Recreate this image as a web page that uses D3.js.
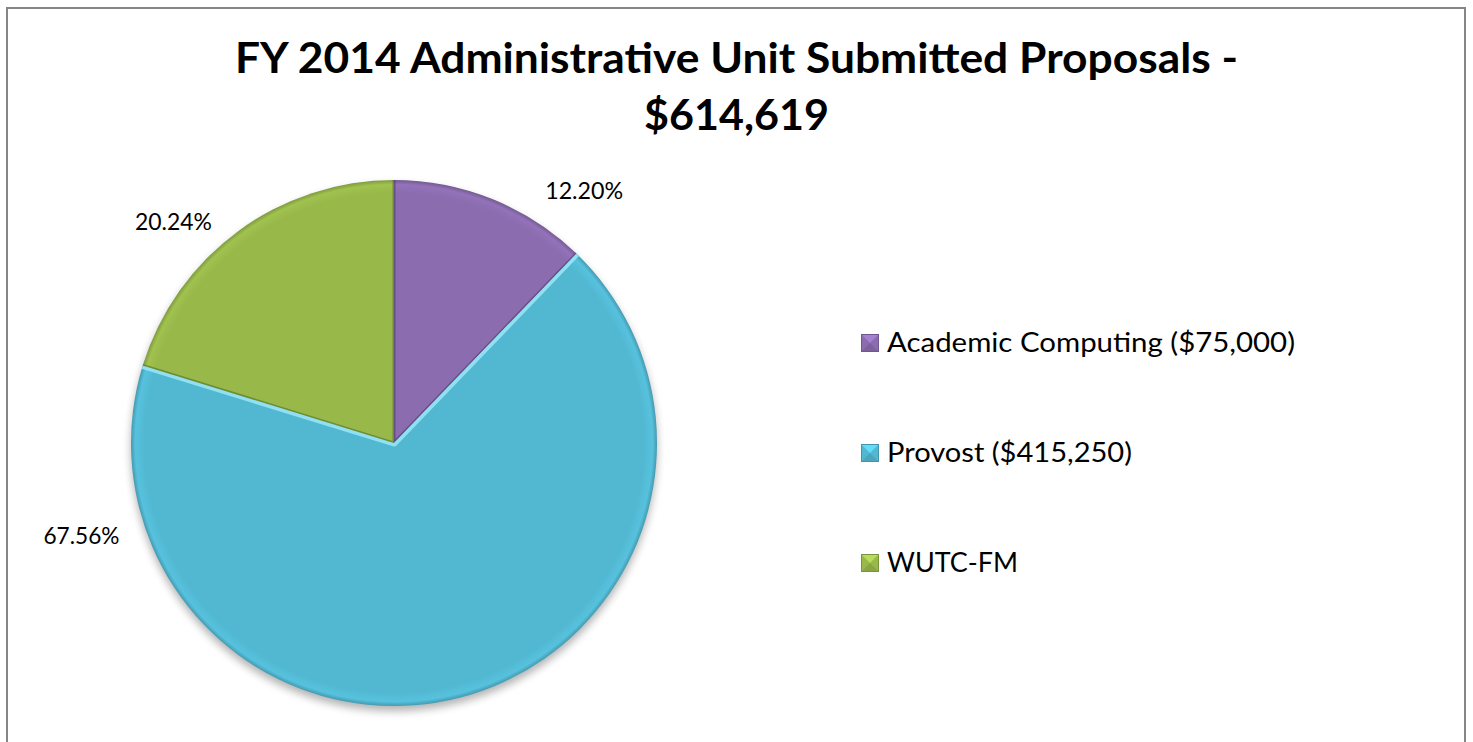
<!DOCTYPE html>
<html>
<head>
<meta charset="utf-8">
<script src="https://cdn.jsdelivr.net/npm/d3@7"></script>
<style>
  html, body { margin: 0; padding: 0; background: #ffffff; }
  svg { display: block; }
</style>
</head>
<body>
<script>
// ---- data ----
const categories = ["Academic Computing", "Provost", "WUTC-FM"];
const legendLabels = ["Academic Computing ($75,000)", "Provost ($415,250)", "WUTC-FM"];
const values = [75000, 415250, 124369];
const percentLabels = ["12.20%", "67.56%", "20.24%"];
const titleLines = ["FY 2014 Administrative Unit Submitted Proposals -", "$614,619"];

// ---- style / layout ----
const W = 1473, H = 742;
const colors = ["#8b6caf", "#52b8d2", "#98b84a"];
const edgeColors = ["#4e3a6c", "#9ae8f8", "#556e20"];
const cx = 394, cy = 443, R = 263;
// label anchor direction (degrees clockwise from top) and distance from centre
const labelLayout = [
  { angle: 37.0, dist: 316 },
  { angle: 253.5, dist: 326 },
  { angle: 315.0, dist: 312 }
];
const legendLayout = { x: 861, y0: 352, step: 110, box: 18, gap: 8 };
const legendWidths = [408, 245, 131];
const labelWidths = [78, 76, 77];

const svg = d3.select("body").append("svg").attr("width", W).attr("height", H);
const defs = svg.append("defs");

// border
svg.append("rect").attr("x", 7).attr("y", 8).attr("width", 1458).attr("height", 760)
  .attr("fill", "#fff").attr("stroke", "#868686").attr("stroke-width", 2);

// title
const title = svg.append("text").attr("text-anchor", "middle")
  .attr("font-family", "Lato, 'Open Sans', sans-serif").attr("font-weight", "bold")
  .attr("font-size", 42).attr("fill", "#000");
title.selectAll("tspan").data(titleLines).join("tspan")
  .attr("x", W / 2).attr("y", (d, i) => 73 + i * 57)
  .attr("textLength", (d, i) => i === 0 ? 1003 : 185)
  .attr("lengthAdjust", "spacingAndGlyphs")
  .text(d => d);

// shadow filter (applied only to a separate shadow shape)
const f = defs.append("filter").attr("id", "shadow")
  .attr("x", "-20%").attr("y", "-20%").attr("width", "140%").attr("height", "140%")
  .attr("color-interpolation-filters", "sRGB");
f.append("feGaussianBlur").attr("stdDeviation", 4);

const pie = d3.pie().sort(null).value(d => d);
const arcs = pie(values);
const arc = d3.arc().innerRadius(0).outerRadius(R);

const pg = svg.append("g").attr("transform", `translate(${cx},${cy})`);
pg.append("circle").attr("cx", 0).attr("cy", 5).attr("r", R)
  .attr("fill", "#000").attr("opacity", 0.3).attr("filter", "url(#shadow)");

// gradients per slice (rim highlight / shading), in the pie group's local space
colors.forEach((c, i) => {
  const g = defs.append("radialGradient").attr("id", "grad" + i)
    .attr("gradientUnits", "userSpaceOnUse").attr("cx", 0).attr("cy", 0).attr("r", R);
  g.append("stop").attr("offset", "0%").attr("stop-color", c);
  g.append("stop").attr("offset", "95%").attr("stop-color", c);
  g.append("stop").attr("offset", "98.3%").attr("stop-color", d3.color(c).brighter(0.15).formatHex());
  g.append("stop").attr("offset", "100%").attr("stop-color", d3.color(c).darker(0.5).formatHex());
});

pg.selectAll("path.slice").data(arcs).join("path").attr("class", "slice")
  .attr("d", arc).attr("fill", (d, i) => `url(#grad${i})`);

// bevel along the straight (radial) edges, clipped inside each slice
arcs.forEach((d, i) => {
  defs.append("clipPath").attr("id", "clip" + i).append("path").attr("d", arc(d));
});
const radialEdges = d => {
  const p = a => [R * Math.sin(a), -R * Math.cos(a)];
  const s = p(d.startAngle), e = p(d.endAngle);
  return `M${s[0]},${s[1]}L0,0L${e[0]},${e[1]}`;
};
pg.append("g").selectAll("path").data(arcs).join("path")
  .attr("d", radialEdges)
  .attr("clip-path", (d, i) => `url(#clip${i})`)
  .attr("fill", "none")
  .attr("stroke", (d, i) => edgeColors[i])
  .attr("stroke-width", (d, i) => i === 1 ? 7 : 3)
  .attr("stroke-opacity", (d, i) => i === 1 ? 0.85 : 0.6)
  .attr("stroke-linejoin", "round");

// percent labels
const rad = a => a * Math.PI / 180;
svg.append("g").selectAll("text").data(arcs).join("text")
  .attr("x", (d, i) => cx + labelLayout[i].dist * Math.sin(rad(labelLayout[i].angle)))
  .attr("y", (d, i) => cy - labelLayout[i].dist * Math.cos(rad(labelLayout[i].angle)) + 8)
  .attr("text-anchor", "middle")
  .attr("font-family", "Lato, 'Open Sans', sans-serif")
  .attr("font-size", 24).attr("fill", "#000")
  .attr("textLength", (d, i) => labelWidths[i])
  .attr("lengthAdjust", "spacingAndGlyphs")
  .text((d, i) => percentLabels[i]);

// legend
const lg = svg.append("g");
const items = lg.selectAll("g").data(categories).join("g")
  .attr("transform", (d, i) => `translate(${legendLayout.x},${legendLayout.y0 + i * legendLayout.step})`);
items.each(function (d, i) {
  const g = d3.select(this);
  const b = legendLayout.box;
  const c = d3.color(colors[i]);
  g.append("rect").attr("x", 0).attr("y", -b).attr("width", b).attr("height", b).attr("fill", c.formatHex());
  g.append("path").attr("d", `M0,${-b}L${b},${-b}L${b / 2},${-b / 2}Z`).attr("fill", c.brighter(0.5).formatHex());
  g.append("path").attr("d", `M0,0L${b},0L${b / 2},${-b / 2}Z`).attr("fill", c.darker(0.3).formatHex());
  g.append("rect").attr("x", 0.5).attr("y", -b + 0.5).attr("width", b - 1).attr("height", b - 1)
    .attr("fill", "none").attr("stroke", c.darker(0.6).formatHex()).attr("stroke-width", 1);
  g.append("text").attr("x", b + legendLayout.gap).attr("y", 0)
    .attr("font-family", "Lato, 'Open Sans', sans-serif")
    .attr("font-size", 26).attr("fill", "#000")
    .attr("textLength", legendWidths[i]).attr("lengthAdjust", "spacingAndGlyphs")
    .text(legendLabels[i]);
});
</script>
</body>
</html>
